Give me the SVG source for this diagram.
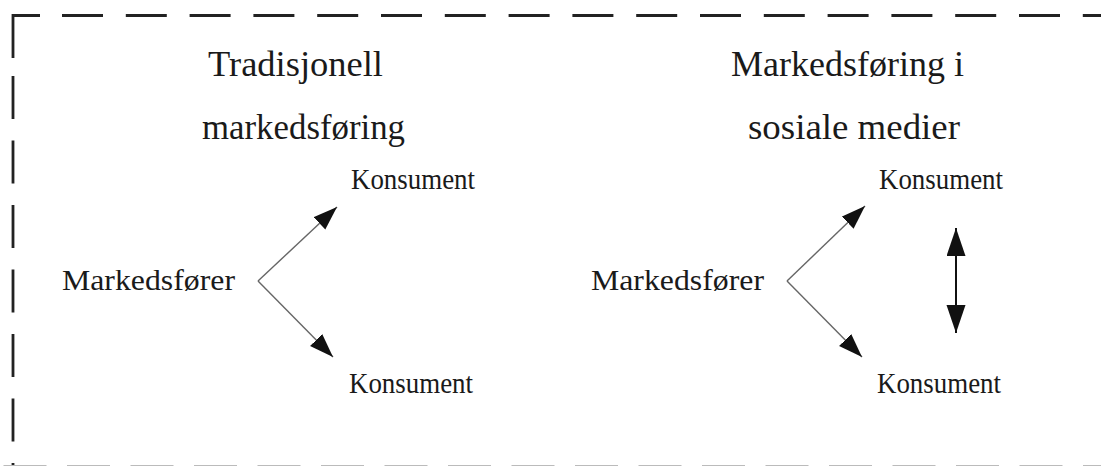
<svg xmlns="http://www.w3.org/2000/svg" width="1101" height="466" viewBox="0 0 1101 466">
<style>
.t{font-family:"Liberation Serif","Times New Roman",serif;fill:#1a1a1a}
.title{font-size:35px}
.lbl{font-size:29px}
.b{stroke:#222;stroke-width:2.8;fill:none}
.c{stroke:#666;stroke-width:1.4;fill:none}
.d{stroke:#111;stroke-width:2;fill:none}
</style>
<defs>
<marker id="ah" markerUnits="userSpaceOnUse" markerWidth="26" markerHeight="20" refX="24" refY="8.5" orient="auto" viewBox="0 0 26 20">
<path d="M0,0 L24,8.5 L0,17 Z" fill="#111"/>
</marker>
<marker id="ah2" markerUnits="userSpaceOnUse" markerWidth="30" markerHeight="22" refX="28" refY="9.5" orient="auto-start-reverse" viewBox="0 0 30 22">
<path d="M0,0 L28,9.5 L0,19 Z" fill="#111"/>
</marker>
</defs>
<rect width="1101" height="466" fill="#fff"/>
<g id="border">
<path class="b" d="M13,58 L13,15.5 L40,15.5"/>
<line class="b" x1="62" y1="15.5" x2="1101" y2="15.5" stroke-dasharray="41 22.8"/>
<line class="b" x1="13" y1="76" x2="13" y2="466" stroke-dasharray="43 21.5"/>
<line x1="3.5" y1="466" x2="1101" y2="466" stroke="#bbb" stroke-width="2" stroke-dasharray="43 20.5"/>
</g>
<g id="title-left">
<text class="t title" x="208" y="76" textLength="175" lengthAdjust="spacingAndGlyphs">Tradisjonell</text>
<text class="t title" x="202" y="139" textLength="203" lengthAdjust="spacingAndGlyphs">markedsføring</text>
</g>
<g id="title-right">
<text class="t title" x="731" y="76" textLength="233" lengthAdjust="spacingAndGlyphs">Markedsføring i</text>
<text class="t title" x="748" y="139" textLength="212" lengthAdjust="spacingAndGlyphs">sosiale medier</text>
</g>
<g id="markedsforer-left"><text class="t lbl" x="62" y="290" textLength="173" lengthAdjust="spacingAndGlyphs">Markedsfører</text></g>
<g id="konsument-left-top"><text class="t lbl" x="351" y="189" textLength="124" lengthAdjust="spacingAndGlyphs">Konsument</text></g>
<g id="konsument-left-bottom"><text class="t lbl" x="349" y="393" textLength="124" lengthAdjust="spacingAndGlyphs">Konsument</text></g>
<g id="markedsforer-right"><text class="t lbl" x="591" y="290" textLength="173" lengthAdjust="spacingAndGlyphs">Markedsfører</text></g>
<g id="konsument-right-top"><text class="t lbl" x="879" y="189" textLength="124" lengthAdjust="spacingAndGlyphs">Konsument</text></g>
<g id="konsument-right-bottom"><text class="t lbl" x="877" y="393" textLength="124" lengthAdjust="spacingAndGlyphs">Konsument</text></g>
<g id="connectors">
<line class="c" x1="258" y1="281" x2="337" y2="207" marker-end="url(#ah)"/>
<line class="c" x1="258" y1="281" x2="333" y2="357" marker-end="url(#ah)"/>
<line class="c" x1="787" y1="281" x2="865" y2="206" marker-end="url(#ah)"/>
<line class="c" x1="787" y1="281" x2="862" y2="357" marker-end="url(#ah)"/>
<line class="d" x1="956" y1="228" x2="956" y2="333" marker-start="url(#ah2)" marker-end="url(#ah2)"/>
</g>
</svg>
